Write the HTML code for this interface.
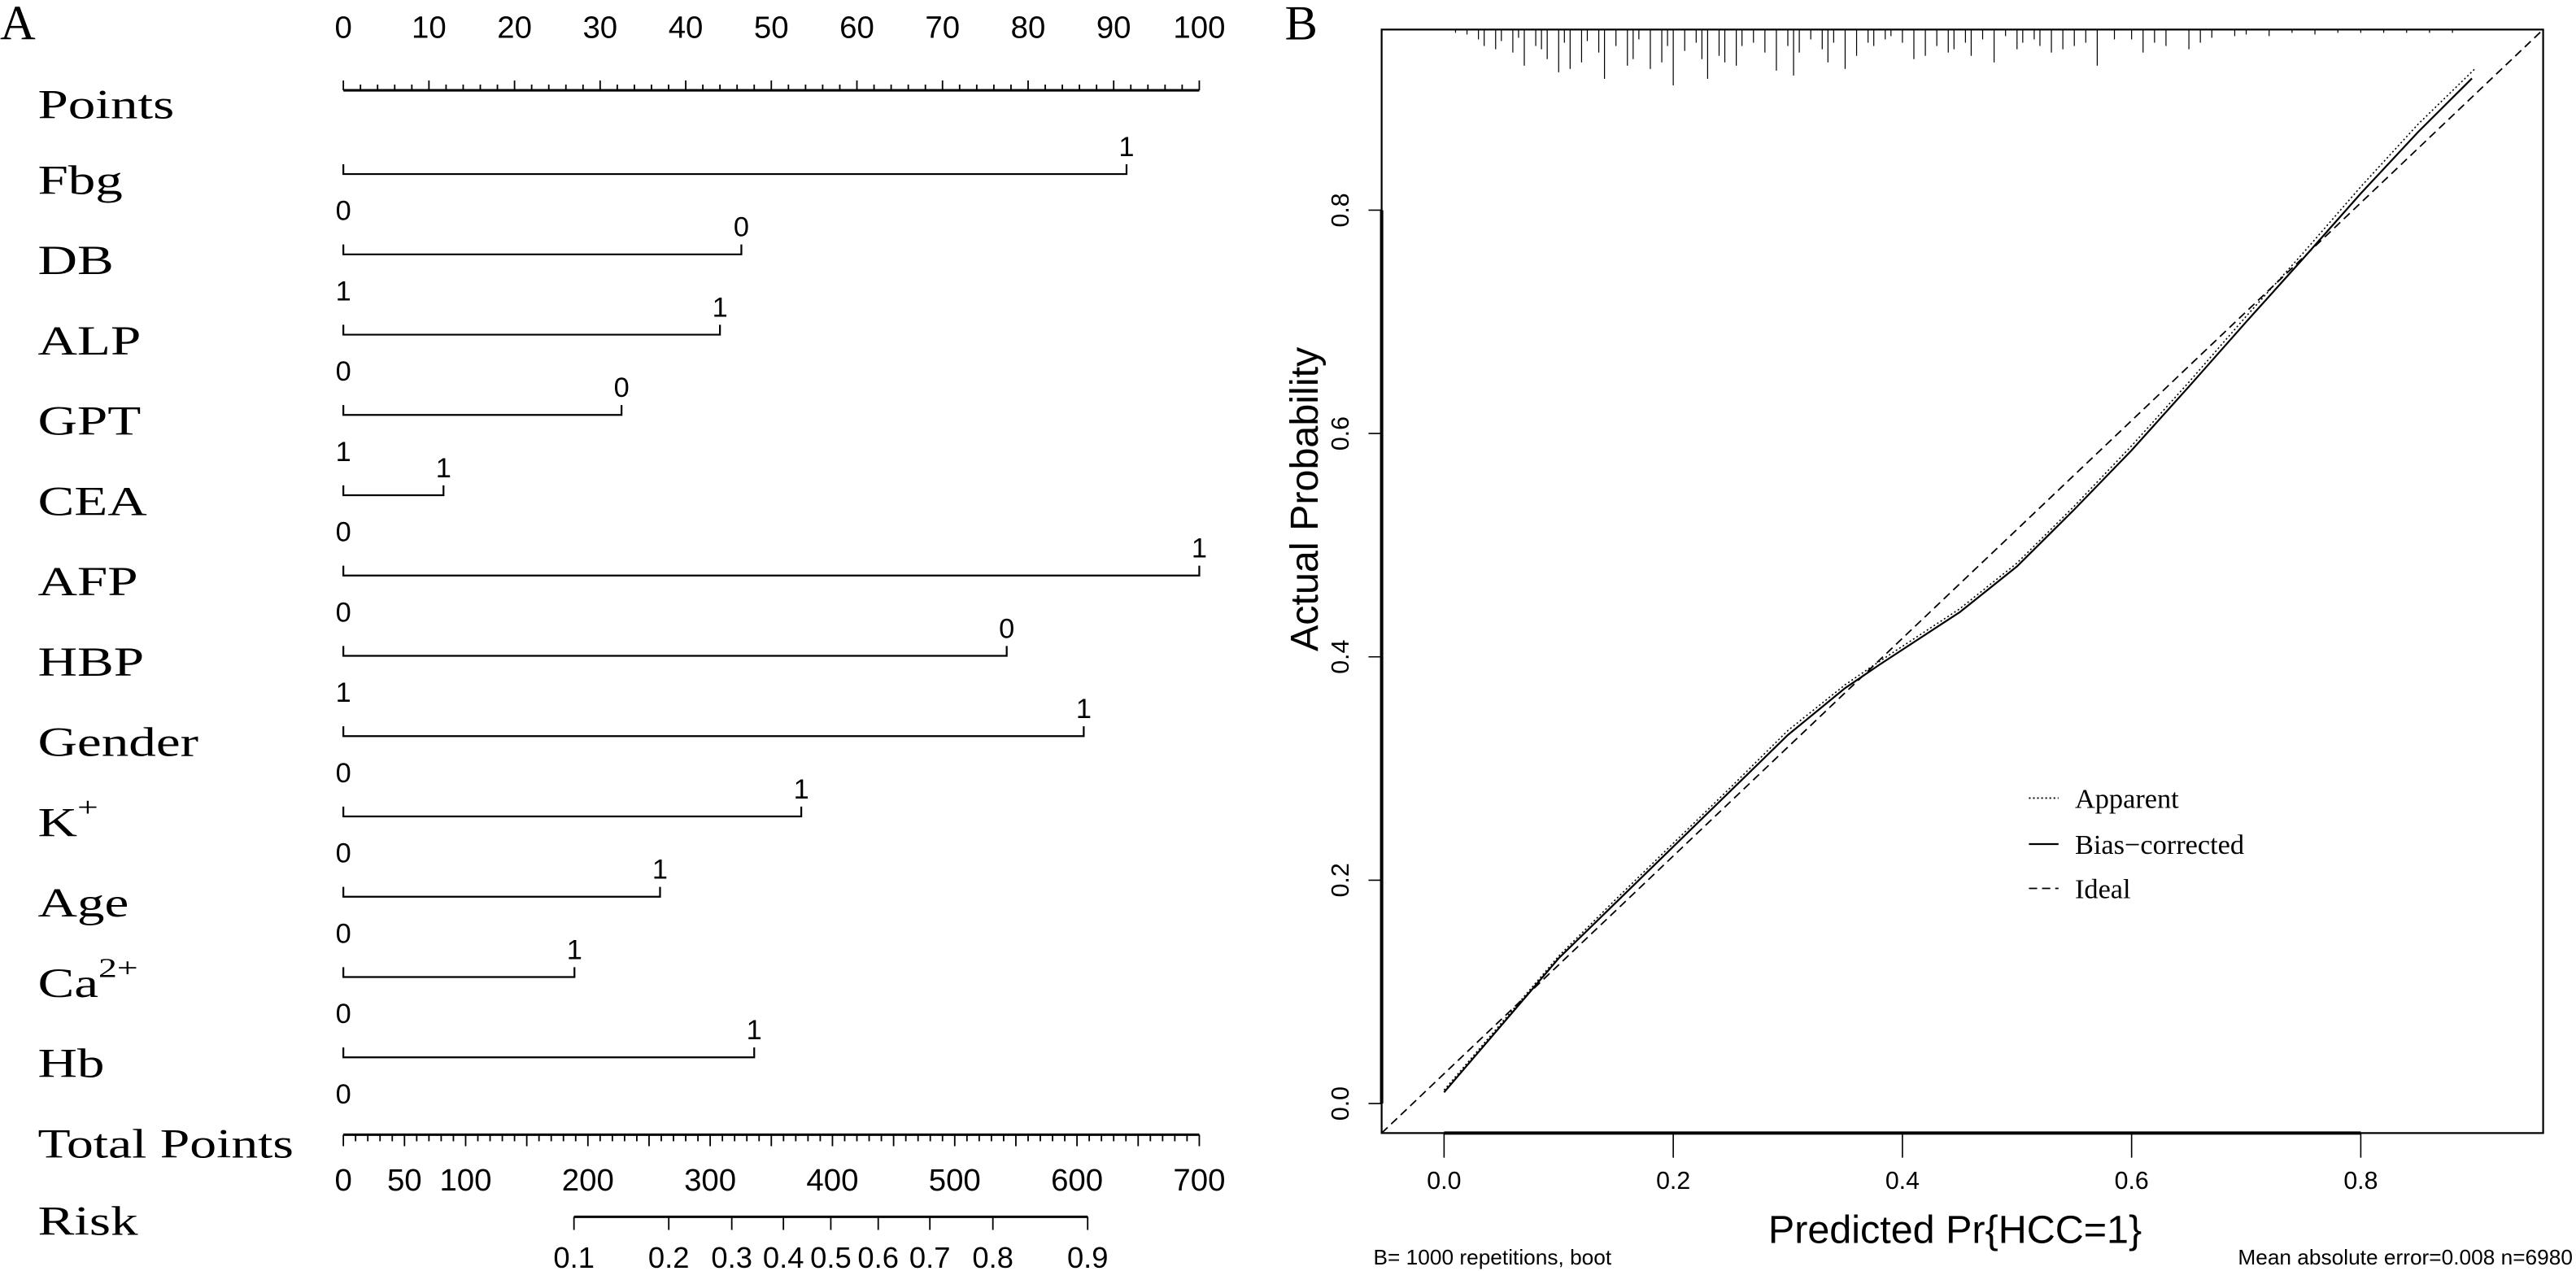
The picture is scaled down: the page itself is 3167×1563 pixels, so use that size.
<!DOCTYPE html>
<html><head><meta charset="utf-8"><style>
html,body{margin:0;padding:0;background:#fff}
svg{display:block}
.serif{font-family:"Liberation Serif",serif}
.sans{font-family:"Liberation Sans",sans-serif}
</style></head><body>
<svg id="chart" width="3167" height="1563" viewBox="0 0 1568 774" preserveAspectRatio="none" xmlns="http://www.w3.org/2000/svg">
<g id="nomo"></g>
<g id="calib"></g>
</svg>
<script>
// ---- Nomogram data ----
const varNames = ["Fbg","DB","ALP","GPT","CEA","AFP","HBP","Gender","K","Age","Ca","Hb"];
const varPoints = [91.5,46.5,44,32.5,11.7,100,77.5,86.5,53.5,37,27,48];
const varRightLabel = ["1","0","1","0","1","1","0","1","1","1","1","1"];
const varLeftLabel = ["0","1","0","1","0","0","1","0","0","0","0","0"];
const pointTicks = [0,10,20,30,40,50,60,70,80,90,100];
const totalTicks = [0,50,100,200,300,400,500,600,700];
const riskTicks = [0.1,0.2,0.3,0.4,0.5,0.6,0.7,0.8,0.9];
const riskIntercept = -4.17;
const riskSlope = 0.01046;

// ---- Calibration data ----
const xTicks = [0.0,0.2,0.4,0.6,0.8];
const yTicks = [0.0,0.2,0.4,0.6,0.8];
const biasX = [0.0,0.05,0.1,0.15,0.2,0.25,0.3,0.35,0.38,0.45,0.5,0.55,0.6,0.65,0.7,0.75,0.8,0.85,0.897];
const biasY = [0.01,0.07,0.13,0.18,0.23,0.28,0.33,0.372,0.393,0.44,0.481,0.532,0.585,0.642,0.70,0.757,0.815,0.87,0.918];
const appX = [0.0,0.05,0.1,0.15,0.2,0.25,0.3,0.35,0.38,0.45,0.5,0.55,0.6,0.65,0.7,0.75,0.8,0.85,0.9];
const appY = [0.012,0.072,0.132,0.183,0.233,0.283,0.334,0.375,0.396,0.443,0.484,0.535,0.589,0.646,0.705,0.762,0.821,0.877,0.927];
const rugX = [0.01,0.02,0.03,0.035,0.045,0.05,0.06,0.065,0.07,0.08,0.085,0.09,0.1,0.105,0.11,0.12,0.125,0.135,0.14,0.15,0.16,0.165,0.17,0.18,0.19,0.195,0.2,0.21,0.22,0.225,0.23,0.24,0.245,0.255,0.26,0.27,0.28,0.29,0.3,0.305,0.31,0.32,0.33,0.335,0.34,0.35,0.36,0.37,0.375,0.385,0.39,0.4,0.41,0.42,0.43,0.44,0.445,0.455,0.46,0.47,0.48,0.49,0.5,0.505,0.515,0.52,0.53,0.54,0.55,0.56,0.57,0.585,0.6,0.61,0.62,0.63,0.65,0.66,0.67,0.69,0.7,0.72,0.74,0.76,0.78,0.8,0.82,0.84,0.86,0.88];
const rugLen = [2,3,6,10,12,7,14,5,22,10,12,18,26,8,24,20,7,14,30,10,22,18,6,24,20,10,34,13,8,18,30,16,20,22,10,8,14,25,10,28,14,6,12,20,8,24,16,8,10,6,4,8,18,16,10,14,12,8,16,6,20,4,12,8,6,10,14,12,10,8,22,6,6,14,8,10,12,8,5,4,3,4,2,3,2,2,2,2,2,2];
const NS = "http://www.w3.org/2000/svg";
function mk(parent, tag, attrs, text){
  const e = document.createElementNS(NS, tag);
  for (const k in attrs) e.setAttribute(k, attrs[k]);
  if (text !== undefined) e.textContent = text;
  parent.appendChild(e);
  return e;
}
function widen(e, f){
  const w = e.getComputedTextLength();
  e.setAttribute('textLength', (w*f).toFixed(1));
  e.setAttribute('lengthAdjust','spacingAndGlyphs');
}
const nomo = document.getElementById('nomo');
const calib = document.getElementById('calib');

// ---------- Nomogram ----------
const X0 = 209, X1 = 730;
const px = p => X0 + (p/100)*(X1-X0);
const tx = t => X0 + (t/700)*(X1-X0);
const SW = 1.1;
const LFS = 25, WF = 1.33;

let t = mk(nomo,'text',{x:0,y:24,'font-size':30,class:'serif'},'A');
 

// Points axis
t = mk(nomo,'text',{x:23,y:72,'font-size':LFS,class:'serif'},'Points');
 
widen(t, WF);
let ln = mk(nomo,'line',{x1:px(0),y1:55,x2:px(100),y2:55,stroke:'#000','stroke-width':1.5});
 
for (let p=0;p<=100;p+=2){
  const major = p%10===0;
  const tk = mk(nomo,'line',{x1:px(p),y1:55,x2:px(p),y2:major?49:51.5,stroke:'#000','stroke-width':0.9});
   
}
pointTicks.forEach(p=>{
  const e = mk(nomo,'text',{x:px(p),y:23,'font-size':19,'text-anchor':'middle',class:'sans'},String(p));
   
});

// Variables
varNames.forEach((name,i)=>{
  const y = 106 + i*48.9;
  const g = mk(nomo,'g',{});
   
  const lab = mk(g,'text',{x:23,y:y+12,'font-size':LFS,class:'serif'});
  if (name==='K'){ lab.textContent='K'; mk(lab,'tspan',{dy:-12,'font-size':17},'+'); }
  else if (name==='Ca'){ lab.textContent='Ca'; mk(lab,'tspan',{dy:-12,'font-size':17},'2+'); }
  else { lab.textContent = name; }
   
  widen(lab, WF);
  const xe = px(varPoints[i]);
  const l = mk(g,'polyline',{points:`${X0},${y-6} ${X0},${y} ${xe},${y} ${xe},${y-6}`,fill:'none',stroke:'#000','stroke-width':SW});
   
  const r = mk(g,'text',{x:xe,y:y-11,'font-size':17,'text-anchor':'middle',class:'sans'},varRightLabel[i]);
   
  const le = mk(g,'text',{x:X0,y:y+28,'font-size':17,'text-anchor':'middle',class:'sans'},varLeftLabel[i]);
   
});

// Total points
t = mk(nomo,'text',{x:23,y:705,'font-size':LFS,class:'serif'},'Total Points');
 
widen(t, 1.3);
ln = mk(nomo,'line',{x1:tx(0),y1:691,x2:tx(700),y2:691,stroke:'#000','stroke-width':1.5});
 
for (let v=0; v<=700; v+=10){
  const major = v%50===0;
  const tk = mk(nomo,'line',{x1:tx(v),y1:691,x2:tx(v),y2:major?698:695,stroke:'#000','stroke-width':0.9});
   
}
totalTicks.forEach(v=>{
  const e = mk(nomo,'text',{x:tx(v),y:725,'font-size':19,'text-anchor':'middle',class:'sans'},String(v));
   
});

// Risk
t = mk(nomo,'text',{x:23,y:752,'font-size':LFS,class:'serif'},'Risk');
 
widen(t, WF);
const riskX = r => tx((Math.log(r/(1-r)) - riskIntercept)/riskSlope);
ln = mk(nomo,'line',{x1:riskX(riskTicks[0]),y1:741,x2:riskX(riskTicks[riskTicks.length-1]),y2:741,stroke:'#000','stroke-width':1.5});
 
riskTicks.forEach(r=>{
  const tk = mk(nomo,'line',{x1:riskX(r),y1:741,x2:riskX(r),y2:749,stroke:'#000','stroke-width':0.9});
   
  const e = mk(nomo,'text',{x:riskX(r),y:772,'font-size':18,'text-anchor':'middle',class:'sans'},String(r));
   
});

// ---------- Calibration ----------
const BL=841, BR=1548, BT=18, BB=690;
const sx = v => 879 + v*697.5;
const sy = v => 672 - v*680;

t = mk(calib,'text',{x:782,y:24,'font-size':30,class:'serif'},'B');
 

const box = mk(calib,'rect',{x:BL,y:BT,width:BR-BL,height:BB-BT,fill:'none',stroke:'#000','stroke-width':1.1});
 

// rug
rugX.forEach((v,i)=>{
  const r = mk(calib,'line',{x1:sx(v),y1:BT,x2:sx(v),y2:BT+rugLen[i],stroke:'#000','stroke-width':0.6});
   
});

// x axis
ln = mk(calib,'line',{x1:sx(xTicks[0]),y1:BB,x2:sx(xTicks[xTicks.length-1]),y2:BB,stroke:'#000','stroke-width':2});
 
xTicks.forEach(v=>{
  const tk = mk(calib,'line',{x1:sx(v),y1:BB,x2:sx(v),y2:BB+15,stroke:'#000','stroke-width':0.8});
   
  const e = mk(calib,'text',{x:sx(v),y:724,'font-size':15,'text-anchor':'middle',class:'sans'},v.toFixed(1));
   
});
// y axis
ln = mk(calib,'line',{x1:BL,y1:sy(yTicks[0]),x2:BL,y2:sy(yTicks[yTicks.length-1]),stroke:'#000','stroke-width':2});
 
yTicks.forEach(v=>{
  const tk = mk(calib,'line',{x1:BL,y1:sy(v),x2:BL-8,y2:sy(v),stroke:'#000','stroke-width':0.8});
   
  const e = mk(calib,'text',{x:0,y:0,'font-size':15,'text-anchor':'middle',class:'sans',transform:`translate(821,${sy(v)}) rotate(-90)`},v.toFixed(1));
   
});

// ideal line
const ideal = mk(calib,'line',{x1:BL,y1:BB,x2:BR,y2:BT,stroke:'#000','stroke-width':0.9,'stroke-dasharray':'5,3'});
 
// apparent
const ap = mk(calib,'polyline',{points:appX.map((v,i)=>sx(v)+','+sy(appY[i])).join(' '),fill:'none',stroke:'#000','stroke-width':0.8,'stroke-dasharray':'1,1.5'});
 
// bias-corrected
const bc = mk(calib,'polyline',{points:biasX.map((v,i)=>sx(v)+','+sy(biasY[i])).join(' '),fill:'none',stroke:'#000','stroke-width':1.1});
 

// legend
const leg = mk(calib,'g',{});
 
[['Apparent','1,1.5',491],['Bias\u2212corrected','',519],['Ideal','5,3',546]].forEach(([lab,dash,y])=>{
  const s = mk(leg,'line',{x1:1235,y1:y-5,x2:1253,y2:y-5,stroke:'#000','stroke-width':dash===''?1.1:0.9,'stroke-dasharray':dash||'none'});
   
  const e = mk(leg,'text',{x:1263,y:y+1,'font-size':17,class:'serif'},lab);
   
});

// titles
t = mk(calib,'text',{x:0,y:0,'font-size':24,'text-anchor':'middle',class:'sans',transform:'translate(802,304) rotate(-90)'},'Actual Probability');
 
t = mk(calib,'text',{x:1190,y:757,'font-size':24,'text-anchor':'middle',class:'sans'},'Predicted Pr{HCC=1}');
 
t = mk(calib,'text',{x:836,y:770,'font-size':13,class:'sans'},'B= 1000 repetitions, boot');
 
t = mk(calib,'text',{x:1566,y:770,'font-size':13,'text-anchor':'end',class:'sans'},'Mean absolute error=0.008 n=6980');
 
</script>
</body></html>
